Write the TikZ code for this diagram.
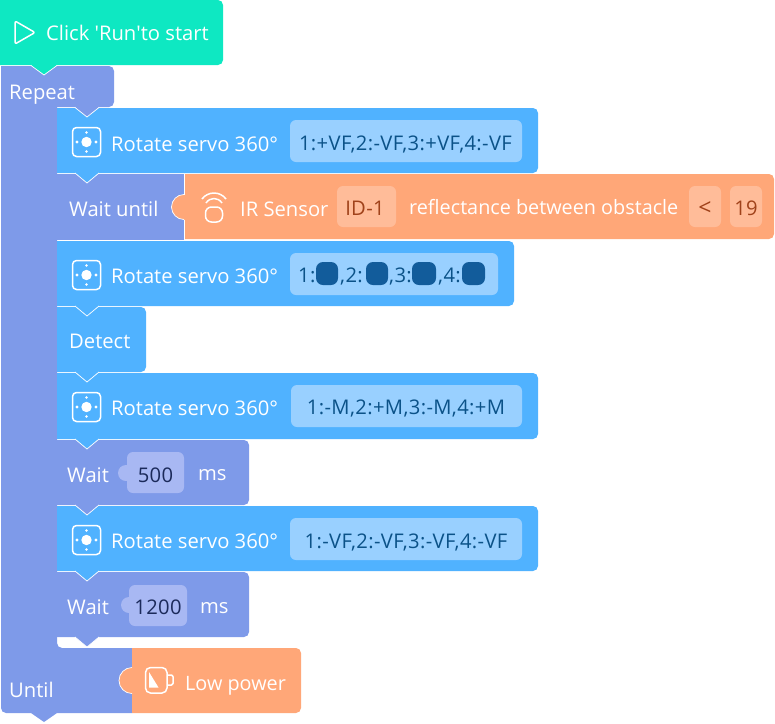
\documentclass[tikz,border=0pt]{standalone}
\usepackage{fontspec}
\setmainfont{Open Sans}
\newfontfamily\fieldfont[LetterSpace=1.8]{Open Sans}
\definecolor{cgreen}{HTML}{0EE8C2}
\definecolor{cpurple}{HTML}{7E9AE9}
\definecolor{cblue}{HTML}{50B2FF}
\definecolor{corange}{HTML}{FFA778}
\definecolor{inblue}{HTML}{99D0FF}
\definecolor{inpurple}{HTML}{A8B8F3}
\definecolor{inorange}{HTML}{FFBC99}
\definecolor{txblue}{HTML}{0B5288}
\definecolor{txdark}{HTML}{1B2A5A}
\definecolor{txorange}{HTML}{A0421A}
\definecolor{swatch}{HTML}{125C9B}
\newcommand{\blk}[5]{%
  \pgfmathsetmacro{\ta}{#2+18}\pgfmathsetmacro{\tb}{#2+30}\pgfmathsetmacro{\tc}{#2+42}\pgfmathsetmacro{\yt}{#5+10}%
  \fill[#1] (#2,#3) [rounded corners=5pt] -- (#4,#3) -- (#4,#5) [sharp corners] -- (\tc,#5) -- (\tb,\yt) -- (\ta,#5) -- (#2,#5) -- cycle;
  \draw[tabline] (\ta,#5) -- (\tb,\yt) -- (\tc,#5);
}
\tikzset{
  x=1pt,y=-1pt,
  tabline/.style={white,line width=0.7pt},
  lbl/.style={anchor=base west,inner sep=0pt,text=white,font=\fontsize{20.2}{21}\selectfont},
  lblsmall/.style={anchor=base west,inner sep=0pt,text=white,font=\fontsize{19.8}{21}\selectfont},
  inp/.style={anchor=base,inner sep=0pt,font=\fieldfont\fontsize{20.2}{21}\selectfont},
  icon/.style={white,line width=1.5pt,line join=round},
  field/.style={rounded corners=6pt},
}
\newcommand{\servo}[1]{%
  \begin{scope}[yshift=-#1pt]
  \draw[icon,rounded corners=4pt] (72.5,127.5) rectangle (100.5,156.5);
  \fill[white] (86.5,142) circle (5.2);
  \fill[white] (86.5,132.5) circle (1.4) (86.5,151.5) circle (1.4) (77,142) circle (1.7) (96,142) circle (1.7);
  \end{scope}}
\begin{document}
\begin{tikzpicture}
\useasboundingbox (0,0) rectangle (775,723);
% until / repeat C block
\fill[cpurple] (1,66) [rounded corners=5pt] -- (114,66) -- (114,107) [sharp corners] -- (57,107) [rounded corners=5pt] -- (57,648) [sharp corners] -- (132,648) -- (132,713) -- (57,713) -- (44,722) -- (31,713) [rounded corners=5pt] -- (1,713) [sharp corners] -- (1,66) -- cycle;
\fill[corange] (132,648) [rounded corners=5pt] -- (301,648) -- (301,713) [sharp corners] -- (132,713) -- cycle;
\fill[corange] (132,680.5) circle (13);
\draw[white,line width=0.7pt] (132,667.5) arc[start angle=270,end angle=90,radius=13];
% stacked blocks, lowest first
\blk{cpurple}{57}{572}{249}{637}
\blk{cblue}{57}{506}{538}{571}
\blk{cpurple}{57}{440}{249}{505}
\blk{cblue}{57}{373}{538}{439}
\blk{cblue}{57}{307}{146}{372}
\blk{cblue}{57}{241}{514}{306}
\fill[corange] (184,174) [rounded corners=5pt] -- (774,174) -- (774,239) [sharp corners] -- (184,239) -- cycle;
\fill[cpurple] (57,174) rectangle (184,240);
\fill[corange] (184,207) circle (12.5);
\draw[white,line width=0.7pt] (184,194.5) arc[start angle=270,end angle=90,radius=12.5];
\draw[white,line width=0.7pt] (184.3,174) -- (184.3,194.5) (184.3,219.5) -- (184.3,240);
\blk{cblue}{57}{108}{538}{173}
\fill[cpurple] (75,107) -- (87,117) -- (99,107) -- cycle;
\draw[tabline] (75,107.5) -- (87,117) -- (99,107.5);
\fill[cgreen] (0,0) [rounded corners=5pt] -- (223,0) -- (223,65) [sharp corners] -- (57,65) -- (44,75) -- (31,65) -- (0,65) -- cycle;
\draw[tabline] (31,65.5) -- (44,75) -- (57,65.5);
% fields
\fill[inblue,field] (290,120) rectangle (522,162);
\fill[inblue,field] (290,253) rectangle (498,295);
\fill[inblue,field] (291,385) rectangle (522,427);
\fill[inblue,field] (290,518) rectangle (522,560);
\fill[inorange,field] (337,186) rectangle (396,227);
\fill[inorange,field] (689,186) rectangle (721,227);
\fill[inorange,field] (730,186) rectangle (762,227);
\fill[inpurple] (126,473) circle (8);
\fill[inpurple,field] (127,452) rectangle (184,493);
\fill[inpurple] (129,605) circle (8);
\fill[inpurple,field] (129,585) rectangle (187,626);
\fill[swatch,rounded corners=7pt] (316,262) rectangle (338,285);
\fill[swatch,rounded corners=7pt] (366,262) rectangle (388,285);
\fill[swatch,rounded corners=7pt] (412,262) rectangle (436,285);
\fill[swatch,rounded corners=7pt] (462,262) rectangle (485,285);
% icons
\draw[icon,rounded corners=2pt] (15,21) -- (15,44) -- (35,32.5) -- cycle;
\servo{0}\servo{133}\servo{265}\servo{398}
\draw[icon] (202,199) .. controls (208,191) and (220,191) .. (226,199);
\draw[icon] (206,203) .. controls (210,197) and (218,197) .. (222,203);
\draw[icon,rounded corners=6pt] (205.5,207) rectangle (222.5,222);
\draw[icon,rounded corners=5pt] (145.5,667.5) rectangle (167,693);
\draw[icon,rounded corners=1.5pt] (167,675) -- (173,675) -- (173,685) -- (167,685);
\fill[white] (149,672) -- (149,687.5) -- (158.5,687.5) -- cycle;
% labels
\node[lbl] (start) at (46,40) {Click \textquotesingle Run\textquotesingle to start};
\node[lbl] (rep) at (9,99) {Repeat};
\node[lbl] (r1) at (111,151) {Rotate servo 360°};
\node[lbl] (wu) at (69,216) {Wait until};
\node[lbl] (ir) at (240,216) {IR Sensor};
\node[lblsmall] (refl) at (409,214) {reflectance between obstacle};
\node[lbl] (r2) at (111,283) {Rotate servo 360°};
\node[lbl] (det) at (69,348) {Detect};
\node[lbl] (r3) at (111,415) {Rotate servo 360°};
\node[lbl] (w1) at (67,482) {Wait};
\node[lbl] (ms1) at (198,480) {ms};
\node[lbl] (r4) at (111,548) {Rotate servo 360°};
\node[lbl] (w2) at (67,614) {Wait};
\node[lbl] (ms2) at (200,613) {ms};
\node[lbl] (unt) at (9,697) {Until};
\node[lblsmall] (lp) at (185,690) {Low power};
% field text
\node[inp,text=txblue] (f1) at (405.5,150) {1:+VF,2:-VF,3:+VF,4:-VF};
\node[inp,text=txblue,anchor=base west] (f2a) at (298,282) {1:};
\node[inp,text=txblue,anchor=base west] (f2b) at (340,282) {,2:};
\node[inp,text=txblue,anchor=base west] (f2c) at (389,282) {,3:};
\node[inp,text=txblue,anchor=base west] (f2d) at (438,282) {,4:};
\node[inp,text=txblue] (f3) at (406,414) {1:-M,2:+M,3:-M,4:+M};
\node[inp,text=txblue] (f4) at (406,548) {1:-VF,2:-VF,3:-VF,4:-VF};
\node[inp,text=txorange] (id) at (365,215) {ID-1};
\node[inp,text=txorange,font=\fieldfont\fontsize{23}{24}\selectfont] (lt) at (705,215) {<};
\node[inp,text=txorange] (nn) at (746,215) {19};
\node[inp,text=txdark] (v1) at (155.5,482) {500};
\node[inp,text=txdark] (v2) at (158,614) {1200};
\end{tikzpicture}
\end{document}
